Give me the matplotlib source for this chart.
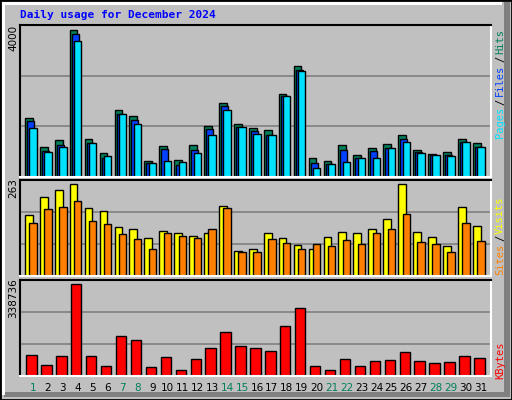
import matplotlib
matplotlib.use("Agg")
import matplotlib.pyplot as plt
from matplotlib.patches import Rectangle
import numpy as np

days = list(range(1, 32))
weekend = [1, 7, 8, 14, 15, 21, 22, 28, 29]
hits = [1600, 820, 1010, 3980, 1035, 660, 1820, 1660, 440, 850, 470, 870, 1390, 2010, 1440,
        1330, 1280, 2250, 3000, 500, 440, 870, 600, 790, 900, 1140, 740, 630, 680, 1035, 930]
files = [1520, 710, 870, 3870, 930, 500, 1710, 1550, 390, 765, 330, 740, 1300, 1930, 1360,
         1250, 1140, 2200, 2900, 390, 360, 740, 520, 710, 790, 1035, 680, 600, 600, 950, 820]
pages = [1330, 680, 820, 3680, 930, 580, 1710, 1440, 390, 440, 410, 660, 1140, 1820, 1360,
         1170, 1140, 2200, 2870, 250, 360, 410, 520, 520, 790, 950, 660, 600, 580, 950, 820]
visits = [174, 225, 245, 263, 194, 185, 140, 134, 108, 128, 122, 114, 122, 199, 71,
          77, 122, 108, 88, 77, 111, 125, 122, 134, 162, 263, 125, 111, 85, 197, 142]
sites = [151, 191, 197, 214, 157, 148, 120, 105, 77, 122, 114, 108, 134, 194, 68,
         68, 105, 94, 77, 91, 85, 103, 91, 122, 134, 177, 97, 91, 68, 151, 100]
kbytes = [78800, 41900, 75100, 338736, 75100, 38200, 149000, 134300, 34500, 71500, 23400, 64100,
          104700, 163900, 112100, 104700, 93600, 186000, 252600, 38200, 23400, 64100, 38200,
          56700, 60400, 89900, 56700, 49300, 53000, 75100, 67800]

W, H = 512, 400
fig = plt.figure(figsize=(5.12, 4.0), dpi=100, facecolor="#C0C0C0")
x = np.array(days, dtype=float)

def fx(px): return px / W
def fy(py): return 1 - py / H

# bevel / border
fig.patches.append(Rectangle((0, 0), 1, 1, transform=fig.transFigure, fill=False, ec="black", lw=2))
fig.patches.append(Rectangle((fx(504), fy(397)), fx(6), fy(2) - fy(397), transform=fig.transFigure, fc="#808080", ec="none"))
fig.patches.append(Rectangle((fx(4), fy(397)), fx(506), fy(392) - fy(397), transform=fig.transFigure, fc="#808080", ec="none"))
fig.patches.append(Rectangle((fx(2), fy(5)), fx(500), fy(2) - fy(5), transform=fig.transFigure, fc="white", ec="none"))
fig.patches.append(Rectangle((fx(2), fy(395)), fx(3), fy(2) - fy(395), transform=fig.transFigure, fc="white", ec="none"))

xl = (0.13, 31.68)

def mkax(top, bottom, ytop):
    ax = fig.add_axes([fx(20), fy(bottom), fx(471), fy(top) - fy(bottom)])
    ax.set_facecolor("#C0C0C0")
    ax.set_xlim(*xl)
    ax.set_ylim(0, ytop)
    for g in (ytop / 3, 2 * ytop / 3):
        ax.axhline(g, color="#808080", lw=1.2, zorder=0)
    ax.set_xticks([]); ax.set_yticks([])
    for s in ("top", "left"):
        ax.spines[s].set_color("black"); ax.spines[s].set_linewidth(1.5)
    for s in ("bottom", "right"):
        ax.spines[s].set_color("white"); ax.spines[s].set_linewidth(1.5)
    return ax

bk = dict(edgecolor="black", linewidth=1.0, align="edge")
u = 14.93
ax1 = mkax(25, 177, 4104)
ax1.bar(x - 8 / u, hits, width=7.7 / u, color="#00805C", **bk)
ax1.bar(x - 6 / u, files, width=7 / u, color="#0040FF", **bk)
ax1.bar(x - 3.7 / u, pages, width=7.4 / u, color="#00E0FF", **bk)

ax2 = mkax(180, 276, 273.5)
ax2.bar(x - 8 / u, visits, width=7.7 / u, color="#FFFF00", **bk)
ax2.bar(x - 3.7 / u, sites, width=7.4 / u, color="#FF8000", **bk)

ax3 = mkax(280, 376, 354800)
ax3.bar(x - 6.7 / u, kbytes, width=10.4 / u, color="#FF0000", **bk)

for d in days:
    fig.text(fx(33 + u * (d - 1)), fy(388), str(d), ha="center", va="center", fontsize=7.5,
             color="#00805C" if d in weekend else "black")

fig.text(fx(20), fy(15), "Daily usage for December 2024", ha="left", va="center",
         fontsize=8, fontweight="bold", family="DejaVu Sans Mono", color="#0000FF")

for txt, yc in (("4000", 38), ("263", 188), ("338736", 298)):
    fig.text(fx(13), fy(yc), txt, rotation=90, ha="center", va="center", fontsize=7.5, color="black")

mono = dict(rotation=90, ha="center", va="center", fontsize=7.5, family="DejaVu Sans Mono")
for txt, yc, c in (("Pages", 122, "#00E0FF"), ("/", 102, "black"), ("Files", 80, "#0040FF"),
                   ("/", 59, "black"), ("Hits", 41, "#00805C"),
                   ("Sites", 259, "#FF8000"), ("/", 238, "black"), ("Visits", 215, "#FFFF00"),
                   ("KBytes", 360, "#FF0000")):
    fig.text(fx(500), fy(yc), txt, color=c, **mono)

fig.savefig("out.png", dpi=100, facecolor=fig.get_facecolor())
